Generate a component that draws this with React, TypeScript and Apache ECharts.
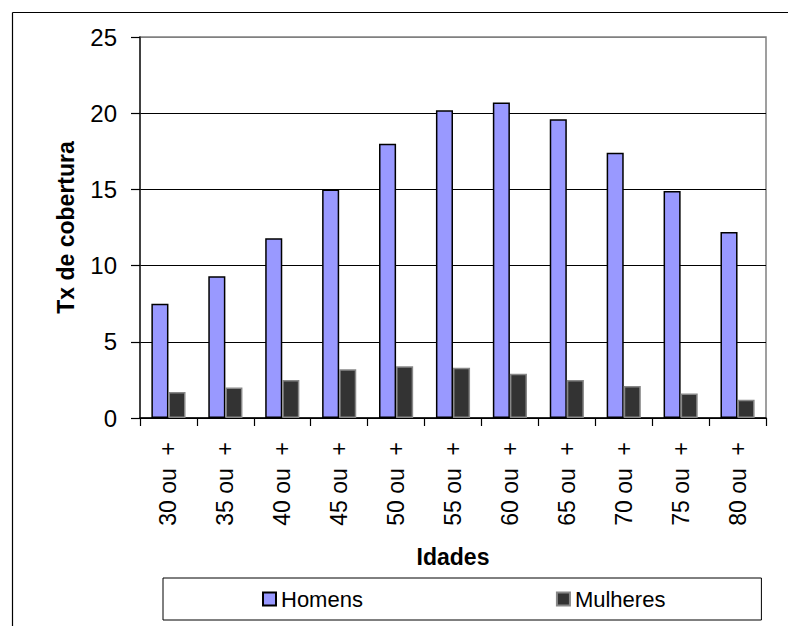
import React, { useEffect, useRef } from "react";
import * as echarts from "echarts";

const categories = ["30 ou  +", "35 ou  +", "40 ou  +", "45 ou  +", "50 ou  +", "55 ou  +", "60 ou  +", "65 ou  +", "70 ou  +", "75 ou  +", "80 ou  +"];
const homens = [7.5, 9.3, 11.8, 15.0, 18.0, 20.2, 20.7, 19.6, 17.4, 14.9, 12.2];
const mulheres = [1.7, 2.0, 2.5, 3.2, 3.4, 3.3, 2.9, 2.5, 2.1, 1.6, 1.2];
const seriesNames = ["Homens", "Mulheres"];
const yAxisTitle = "Tx de cobertura";
const xAxisTitle = "Idades";

const FONT = "Arial, 'Liberation Sans', sans-serif";

export default function App() {
  const ref = useRef<HTMLDivElement>(null);
  useEffect(() => {
    document.body.style.margin = "0";
    if (!ref.current) return;
    const chart = echarts.init(ref.current, null, { renderer: "svg" });
    chart.setOption({
      animation: false,
      backgroundColor: "#ffffff",
      textStyle: { fontFamily: FONT },
      grid: {
        left: 140,
        top: 37,
        right: 22,
        bottom: 208,
        show: true,
        borderColor: "#808080",
        borderWidth: 1.5,
        backgroundColor: "transparent",
      },
      graphic: [
        { type: "line", shape: { x1: 12.5, y1: 12.5, x2: 788, y2: 12.5 }, style: { stroke: "#000", lineWidth: 1.2 } },
        { type: "line", shape: { x1: 12.5, y1: 12.5, x2: 12.5, y2: 626 }, style: { stroke: "#000", lineWidth: 1.2 } },
      ],
      legend: {
        left: 163,
        top: 578,
        padding: [10, 96, 10, 99],
        borderColor: "#000",
        borderWidth: 1,
        itemGap: 193,
        itemWidth: 13,
        itemHeight: 13,
        icon: "rect",
        textStyle: { fontSize: 22, color: "#000", fontFamily: FONT },
        data: seriesNames,
      },
      xAxis: {
        type: "category",
        data: categories,
        name: xAxisTitle,
        nameLocation: "middle",
        nameGap: 127,
        nameTextStyle: { fontSize: 23, fontWeight: "bold", color: "#000", fontFamily: FONT },
        axisLine: { lineStyle: { color: "#000", width: 1.5 } },
        axisTick: { show: true, length: 8, lineStyle: { color: "#000", width: 1.2 } },
        axisLabel: {
          rotate: 90,
          margin: 24,
          fontSize: 23,
          color: "#000",
          fontFamily: FONT,
          interval: 0,
        },
      },
      yAxis: {
        type: "value",
        min: 0,
        max: 25,
        interval: 5,
        name: yAxisTitle,
        nameLocation: "middle",
        nameGap: 63,
        nameTextStyle: { fontSize: 23, fontWeight: "bold", color: "#000", fontFamily: FONT },
        axisLine: { show: true, lineStyle: { color: "#222", width: 1.5 } },
        axisTick: { show: true, length: 9, lineStyle: { color: "#000", width: 1.2 } },
        axisLabel: { margin: 23, fontSize: 24, color: "#000", fontFamily: FONT },
        splitLine: {
          show: true,
          lineStyle: { color: ["#000", "#000", "#000", "#000", "#000", "#808080"], width: 1 },
        },
      },
      series: [
        {
          name: seriesNames[0],
          type: "bar",
          data: homens,
          barGap: "0%",
          barCategoryGap: "40%",
          itemStyle: { color: "#9999ff", borderColor: "#000", borderWidth: 1.5 },
        },
        {
          name: seriesNames[1],
          type: "bar",
          data: mulheres,
          barGap: "0%",
          barCategoryGap: "40%",
          itemStyle: { color: "#333333", borderColor: "#888888", borderWidth: 1.5 },
        },
      ],
    });
    return () => chart.dispose();
  }, []);
  return <div ref={ref} style={{ width: 788, height: 626 }} />;
}
